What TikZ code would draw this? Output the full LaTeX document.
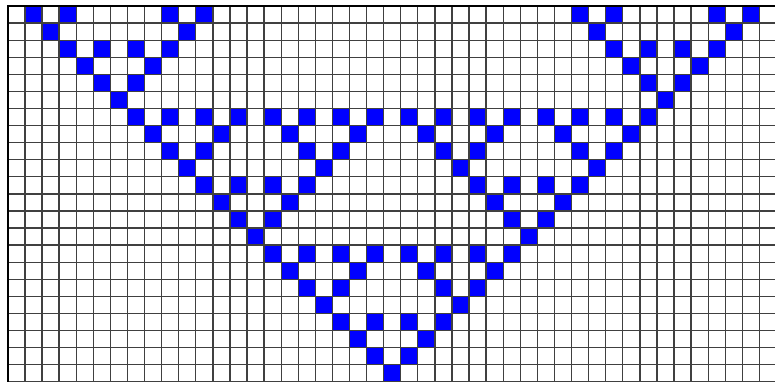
\documentclass[tikz,border=0pt]{standalone}
\begin{document}
\begin{tikzpicture}[x=1pt,y=-1pt,
  cellon/.style={fill={rgb,255:red,0;green,0;blue,255}},
  gridline/.style={draw=black!75,line width=1.3pt},
  frameline/.style={draw=black,line width=2.4pt}]
\useasboundingbox (0,0) rectangle (775,382);
\clip (0,0) rectangle (775,382);
\fill[white] (0,0) rectangle (775,382);
\def\s{17.08}
\def\ox{7.9}
\def\oy{6}
\foreach \r/\cols in {
  0/{1,3,9,11,33,35,41,43},
  1/{2,10,34,42},
  2/{3,5,7,9,35,37,39,41},
  3/{4,8,36,40},
  4/{5,7,37,39},
  5/{6,38},
  6/{7,9,11,13,15,17,19,21,23,25,27,29,31,33,35,37},
  7/{8,12,16,20,24,28,32,36},
  8/{9,11,17,19,25,27,33,35},
  9/{10,18,26,34},
  10/{11,13,15,17,27,29,31,33},
  11/{12,16,28,32},
  12/{13,15,29,31},
  13/{14,30},
  14/{15,17,19,21,23,25,27,29},
  15/{16,20,24,28},
  16/{17,19,25,27},
  17/{18,26},
  18/{19,21,23,25},
  19/{20,24},
  20/{21,23},
  21/{22}} {
  \foreach \c in \cols {
    \path[cellon] ({\ox+\c*\s},{\oy+\r*\s}) rectangle ++(\s,\s);
  }
}
\foreach \i in {1,...,45} {
  \draw[gridline] ({\ox+\i*\s},\oy) -- ({\ox+\i*\s},{\oy+22*\s});
}
\foreach \j in {1,...,22} {
  \draw[gridline] (\ox,{\oy+\j*\s}) -- ({\ox+45*\s},{\oy+\j*\s});
}
\draw[frameline] (\ox,{\oy+22*\s}) -- (\ox,\oy) -- ({\ox+45*\s},\oy);
\end{tikzpicture}
\end{document}
